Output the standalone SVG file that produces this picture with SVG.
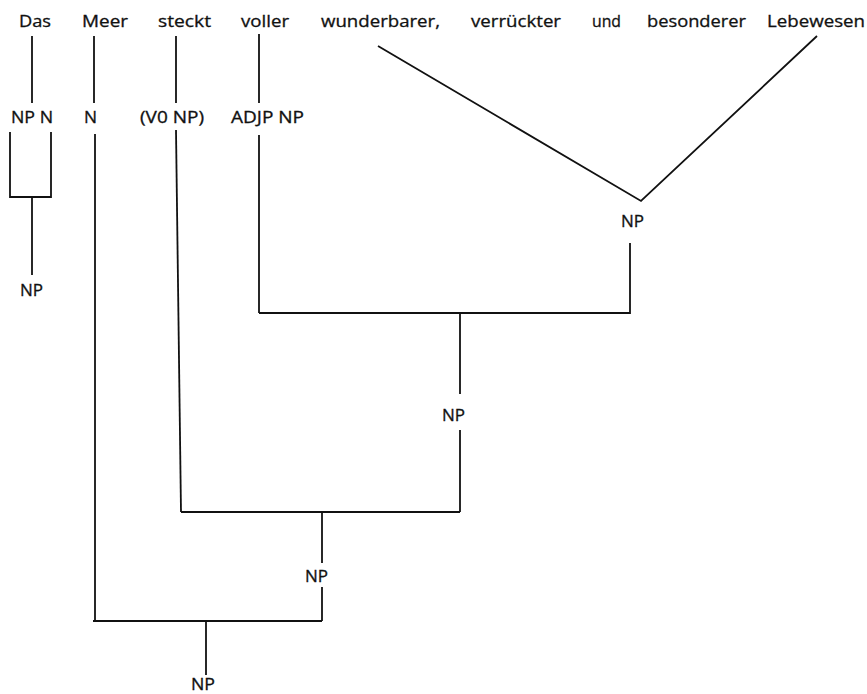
<svg xmlns="http://www.w3.org/2000/svg" width="867" height="694" viewBox="0 0 867 694">
<style>
text{font-family:"Open Sans","Noto Sans","Liberation Sans",sans-serif;font-size:16px;fill:#111;stroke:#111;stroke-width:0.3}
.c{fill:none;stroke:#111;stroke-width:1.8;stroke-linecap:butt;stroke-linejoin:miter}
</style>
<rect width="867" height="694" fill="#fff"/>
<g id="connectors" class="c">
<path d="M32,36V103"/>
<path d="M94,36V103"/>
<path d="M176,36V103"/>
<path d="M259,34V103"/>
<path d="M10,132V197H51V132"/>
<path d="M32,197V275"/>
<path d="M95,134V621"/>
<path d="M176,130L181,512"/>
<path d="M259,135V313"/>
<path d="M259,313H630V243"/>
<path d="M378,46L641,201L817,36"/>
<path d="M460,313V394"/>
<path d="M460,430V512"/>
<path d="M181,512H460"/>
<path d="M322,512V563"/>
<path d="M322,587V621"/>
<path d="M93,621H322"/>
<path d="M206,621V675"/>
</g>
<g id="w-das"><text x="19" y="27" textLength="32" lengthAdjust="spacingAndGlyphs">Das</text></g>
<g id="w-meer"><text x="82" y="27" textLength="46" lengthAdjust="spacingAndGlyphs">Meer</text></g>
<g id="w-steckt"><text x="158" y="27" textLength="53" lengthAdjust="spacingAndGlyphs">steckt</text></g>
<g id="w-voller"><text x="241" y="27" textLength="48" lengthAdjust="spacingAndGlyphs">voller</text></g>
<g id="w-wunderbarer"><text x="321" y="27" textLength="119" lengthAdjust="spacingAndGlyphs">wunderbarer,</text></g>
<g id="w-verrueckter"><text x="471" y="27" textLength="90" lengthAdjust="spacingAndGlyphs">verrückter</text></g>
<g id="w-und"><text x="592" y="27" textLength="29" lengthAdjust="spacingAndGlyphs">und</text></g>
<g id="w-besonderer"><text x="647" y="27" textLength="99" lengthAdjust="spacingAndGlyphs">besonderer</text></g>
<g id="w-lebewesen"><text x="767" y="27" textLength="98" lengthAdjust="spacingAndGlyphs">Lebewesen</text></g>
<g id="c-npn"><text x="11" y="123" textLength="42" lengthAdjust="spacingAndGlyphs">NP N</text></g>
<g id="c-n"><text x="84" y="123" textLength="13" lengthAdjust="spacingAndGlyphs">N</text></g>
<g id="c-v0np"><text x="140" y="123" textLength="64" lengthAdjust="spacingAndGlyphs">(V0 NP)</text></g>
<g id="c-adjpnp"><text x="231" y="123" textLength="73" lengthAdjust="spacingAndGlyphs">ADJP NP</text></g>
<g id="np-das"><text x="20" y="296" textLength="23" lengthAdjust="spacingAndGlyphs">NP</text></g>
<g id="np-adj"><text x="621" y="227" textLength="23" lengthAdjust="spacingAndGlyphs">NP</text></g>
<g id="np-voller"><text x="442" y="421" textLength="23" lengthAdjust="spacingAndGlyphs">NP</text></g>
<g id="np-steckt"><text x="305" y="582" textLength="23" lengthAdjust="spacingAndGlyphs">NP</text></g>
<g id="np-root"><text x="191" y="690" textLength="24" lengthAdjust="spacingAndGlyphs">NP</text></g>
</svg>
